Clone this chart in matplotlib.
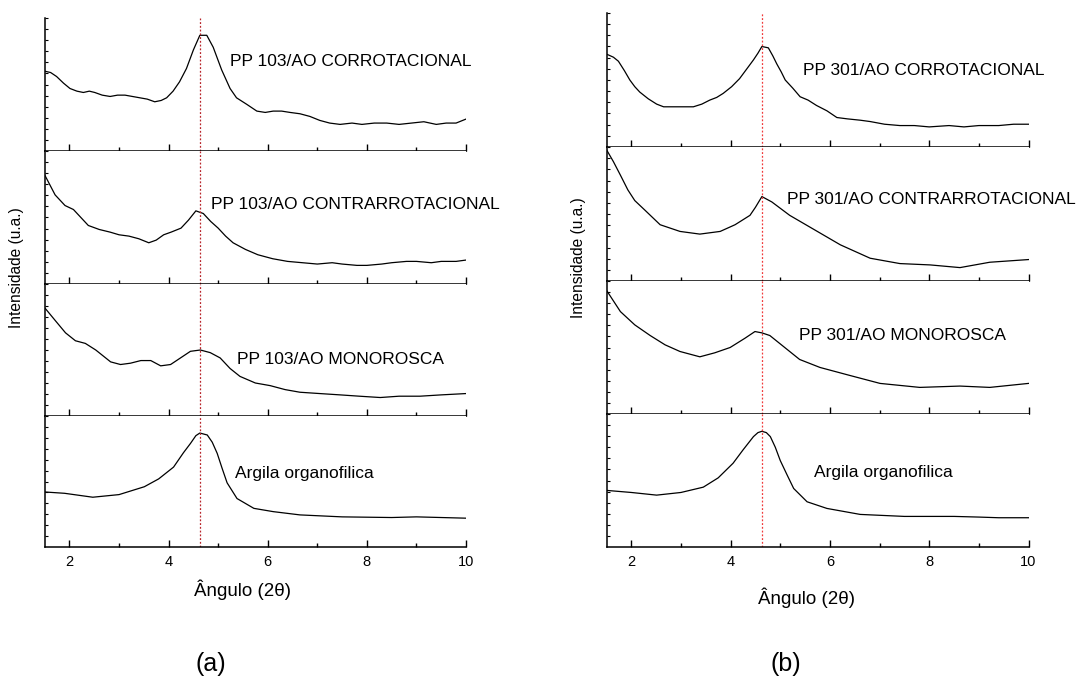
import numpy as np
import matplotlib
matplotlib.use("Agg")
import matplotlib.pyplot as plt
from matplotlib.ticker import FixedLocator

plt.rcParams['font.family'] = ['Liberation Sans', 'DejaVu Sans']

# ---- XRD patterns (2-theta vs normalised intensity per trace) ----
# Panel (a): PP 103 composites
a_cor_x = [1.50, 1.62, 1.74, 1.88, 2.01, 2.15, 2.28, 2.40, 2.51, 2.66, 2.82, 2.97, 3.12,
           3.27, 3.42, 3.57, 3.72, 3.85, 3.96, 4.09, 4.22, 4.36, 4.50, 4.63, 4.77, 4.90,
           5.07, 5.24, 5.37, 5.58, 5.78, 5.95, 6.11, 6.28, 6.45, 6.65, 6.85, 7.05, 7.25,
           7.46, 7.7, 7.9, 8.15, 8.4, 8.65, 8.9, 9.15, 9.4, 9.6, 9.8, 10.0]
a_cor_y = [0.60, 0.59, 0.56, 0.51, 0.47, 0.45, 0.44, 0.45, 0.44, 0.42, 0.41, 0.42, 0.42,
           0.41, 0.40, 0.39, 0.37, 0.38, 0.40, 0.45, 0.52, 0.62, 0.76, 0.87, 0.87, 0.78,
           0.61, 0.47, 0.40, 0.35, 0.30, 0.29, 0.30, 0.30, 0.29, 0.28, 0.26, 0.23, 0.21,
           0.20, 0.21, 0.20, 0.21, 0.21, 0.20, 0.21, 0.22, 0.20, 0.21, 0.21, 0.24]

a_con_x = [1.50, 1.71, 1.91, 2.08, 2.23, 2.38, 2.6, 2.82, 3.0, 3.2, 3.4, 3.6, 3.75, 3.9,
           4.05, 4.25, 4.4, 4.55, 4.7, 4.85, 5.0, 5.15, 5.3, 5.55, 5.8, 6.1, 6.4, 6.7,
           7.0, 7.3, 7.5, 7.8, 8.0, 8.3, 8.5, 8.8, 9.0, 9.3, 9.5, 9.8, 10.0]
a_con_y = [0.82, 0.67, 0.59, 0.56, 0.50, 0.44, 0.41, 0.39, 0.37, 0.36, 0.34, 0.31, 0.33,
           0.37, 0.39, 0.42, 0.48, 0.55, 0.53, 0.47, 0.42, 0.36, 0.31, 0.26, 0.22, 0.19,
           0.17, 0.16, 0.15, 0.16, 0.15, 0.14, 0.14, 0.15, 0.16, 0.17, 0.17, 0.16, 0.17,
           0.17, 0.18]

a_mon_x = [1.50, 1.72, 1.92, 2.12, 2.32, 2.53, 2.83, 3.03, 3.23, 3.44, 3.64, 3.84, 4.04,
           4.24, 4.44, 4.64, 4.84, 5.04, 5.24, 5.44, 5.75, 6.05, 6.35, 6.65, 7.05, 7.46,
           7.85, 8.27, 8.65, 9.07, 9.5, 10.0]
a_mon_y = [0.82, 0.72, 0.63, 0.57, 0.55, 0.50, 0.41, 0.39, 0.40, 0.42, 0.42, 0.38, 0.39,
           0.44, 0.49, 0.50, 0.48, 0.44, 0.36, 0.30, 0.25, 0.23, 0.20, 0.18, 0.17, 0.16,
           0.15, 0.14, 0.15, 0.15, 0.16, 0.17]

a_arg_x = [1.50, 1.9, 2.47, 3.0, 3.51, 3.8, 4.10, 4.30, 4.44, 4.55, 4.63, 4.78, 4.88,
           4.98, 5.08, 5.18, 5.38, 5.72, 6.11, 6.65, 7.5, 8.5, 9.0, 9.5, 10.0]
a_arg_y = [0.42, 0.41, 0.38, 0.40, 0.46, 0.52, 0.61, 0.72, 0.79, 0.85, 0.87, 0.855, 0.80,
           0.715, 0.60, 0.49, 0.37, 0.295, 0.27, 0.245, 0.23, 0.225, 0.23, 0.225, 0.22]

# Panel (b): PP 301 composites
b_cor_x = [1.52, 1.64, 1.74, 1.86, 1.97, 2.07, 2.17, 2.34, 2.51, 2.65, 2.78, 3.0, 3.25,
           3.42, 3.58, 3.72, 3.85, 4.02, 4.18, 4.32, 4.46, 4.55, 4.63, 4.76, 4.85, 4.93,
           5.02, 5.10, 5.25, 5.40, 5.56, 5.73, 5.94, 6.14, 6.35, 6.61, 6.81, 7.1, 7.41,
           7.7, 8.0, 8.4, 8.7, 9.0, 9.4, 9.7, 10.0]
b_cor_y = [0.69, 0.67, 0.64, 0.57, 0.50, 0.45, 0.41, 0.36, 0.32, 0.30, 0.30, 0.30, 0.30,
           0.32, 0.35, 0.37, 0.40, 0.45, 0.51, 0.58, 0.65, 0.70, 0.75, 0.74, 0.68, 0.62,
           0.56, 0.50, 0.44, 0.375, 0.35, 0.31, 0.27, 0.22, 0.21, 0.20, 0.19, 0.17, 0.16,
           0.16, 0.15, 0.16, 0.15, 0.16, 0.16, 0.17, 0.17]

b_con_x = [1.50, 1.64, 1.78, 1.93, 2.07, 2.27, 2.58, 2.98, 3.38, 3.79, 4.09, 4.39, 4.50,
           4.63, 4.83, 5.19, 5.70, 6.21, 6.81, 7.41, 8.02, 8.62, 9.22, 10.0]
b_con_y = [0.98, 0.89, 0.79, 0.68, 0.60, 0.53, 0.42, 0.37, 0.35, 0.37, 0.42, 0.49, 0.55,
           0.63, 0.59, 0.49, 0.38, 0.27, 0.17, 0.13, 0.12, 0.10, 0.14, 0.16]

b_mon_x = [1.50, 1.78, 2.07, 2.38, 2.68, 2.98, 3.38, 3.68, 3.99, 4.29, 4.49, 4.63, 4.79,
           5.09, 5.39, 5.80, 6.40, 7.01, 7.81, 8.62, 9.22, 10.0]
b_mon_y = [0.93, 0.77, 0.67, 0.59, 0.52, 0.47, 0.43, 0.46, 0.50, 0.57, 0.62, 0.61, 0.59,
           0.50, 0.41, 0.35, 0.29, 0.23, 0.20, 0.21, 0.20, 0.23]

b_arg_x = [1.52, 2.0, 2.51, 3.0, 3.45, 3.75, 4.05, 4.25, 4.46, 4.55, 4.63, 4.72, 4.80,
           4.90, 5.00, 5.14, 5.27, 5.54, 5.94, 6.61, 7.5, 8.5, 9.0, 9.4, 10.0]
b_arg_y = [0.425, 0.41, 0.39, 0.41, 0.45, 0.52, 0.63, 0.73, 0.83, 0.86, 0.87, 0.86, 0.83,
           0.75, 0.65, 0.54, 0.44, 0.34, 0.29, 0.245, 0.23, 0.23, 0.225, 0.22, 0.22]

peak_pos = 4.63
x_ticks = [2, 4, 6, 8, 10]
x_minor = [3, 5, 7, 9]

labels_a = ["PP 103/AO CORROTACIONAL", "PP 103/AO CONTRARROTACIONAL",
            "PP 103/AO MONOROSCA", "Argila organofilica"]
labels_b = ["PP 301/AO CORROTACIONAL", "PP 301/AO CONTRARROTACIONAL",
            "PP 301/AO MONOROSCA", "Argila organofilica"]

series_a = [(a_cor_x, a_cor_y), (a_con_x, a_con_y), (a_mon_x, a_mon_y), (a_arg_x, a_arg_y)]
series_b = [(b_cor_x, b_cor_y), (b_con_x, b_con_y), (b_mon_x, b_mon_y), (b_arg_x, b_arg_y)]

W, H = 1080, 691
fig = plt.figure(figsize=(W / 100, H / 100), dpi=100)


def panel(left_px, right_px, bounds_px, series, labels, label_pos, vcolor):
    axes = []
    for i, ((xs, ys), lab, (lx, ly)) in enumerate(zip(series, labels, label_pos)):
        top, bot = bounds_px[i], bounds_px[i + 1]
        ax = fig.add_axes([left_px / W, 1 - bot / H, (right_px - left_px) / W, (bot - top) / H])
        ax.plot(xs, ys, color='black', lw=0.9)
        ax.axvline(peak_pos, color=vcolor, lw=0.9, ls=(0, (1.5, 1.5)))
        ax.set_xlim(1.5, 10)
        ax.set_ylim(0, 1)
        for s in ('top', 'right'):
            ax.spines[s].set_visible(False)
        for s in ('left', 'bottom'):
            ax.spines[s].set_linewidth(1.1)
        ax.xaxis.set_major_locator(FixedLocator(x_ticks))
        ax.xaxis.set_minor_locator(FixedLocator(x_minor))
        ax.yaxis.set_major_locator(FixedLocator(list(np.arange(1, 13) / 12)))
        ax.tick_params(axis='x', which='major', direction='in', length=5, width=1.0,
                       labelsize=10.5, pad=6)
        ax.tick_params(axis='x', which='minor', direction='in', length=3, width=1.0)
        ax.tick_params(axis='y', which='major', direction='in', length=2.5, width=0.8,
                       labelleft=False)
        if i < 3:
            ax.tick_params(axis='x', labelbottom=False)
        ax.text(lx, ly, lab, transform=ax.get_xaxis_transform(), fontsize=12.5,
                va='center', ha='left')
        axes.append(ax)
    return axes


panel(44.7, 466.0, [18, 151, 284, 416, 547], series_a, labels_a,
      [(5.24, 0.67), (4.85, 0.60), (5.38, 0.43), (5.33, 0.56)], '#b8242a')
panel(606.5, 1028.5, [13, 147, 281, 414, 547], series_b, labels_b,
      [(5.46, 0.57), (5.13, 0.61), (5.38, 0.59), (5.68, 0.56)], '#f03a3a')

fig.text(17 / W, 1 - 268 / H, "Intensidade (u.a.)", rotation=90, fontsize=11.2,
         ha='center', va='center')
fig.text(579 / W, 1 - 258 / H, "Intensidade (u.a.)", rotation=90, fontsize=11.2,
         ha='center', va='center')
fig.text(243 / W, 1 - 590 / H, "Ângulo (2θ)", fontsize=13.5, ha='center', va='center')
fig.text(807 / W, 1 - 598 / H, "Ângulo (2θ)", fontsize=13.5, ha='center', va='center')
fig.text(211 / W, 1 - 664 / H, "(a)", fontsize=18, ha='center', va='center')
fig.text(786 / W, 1 - 664 / H, "(b)", fontsize=18, ha='center', va='center')

fig.savefig("out.png", dpi=100)
